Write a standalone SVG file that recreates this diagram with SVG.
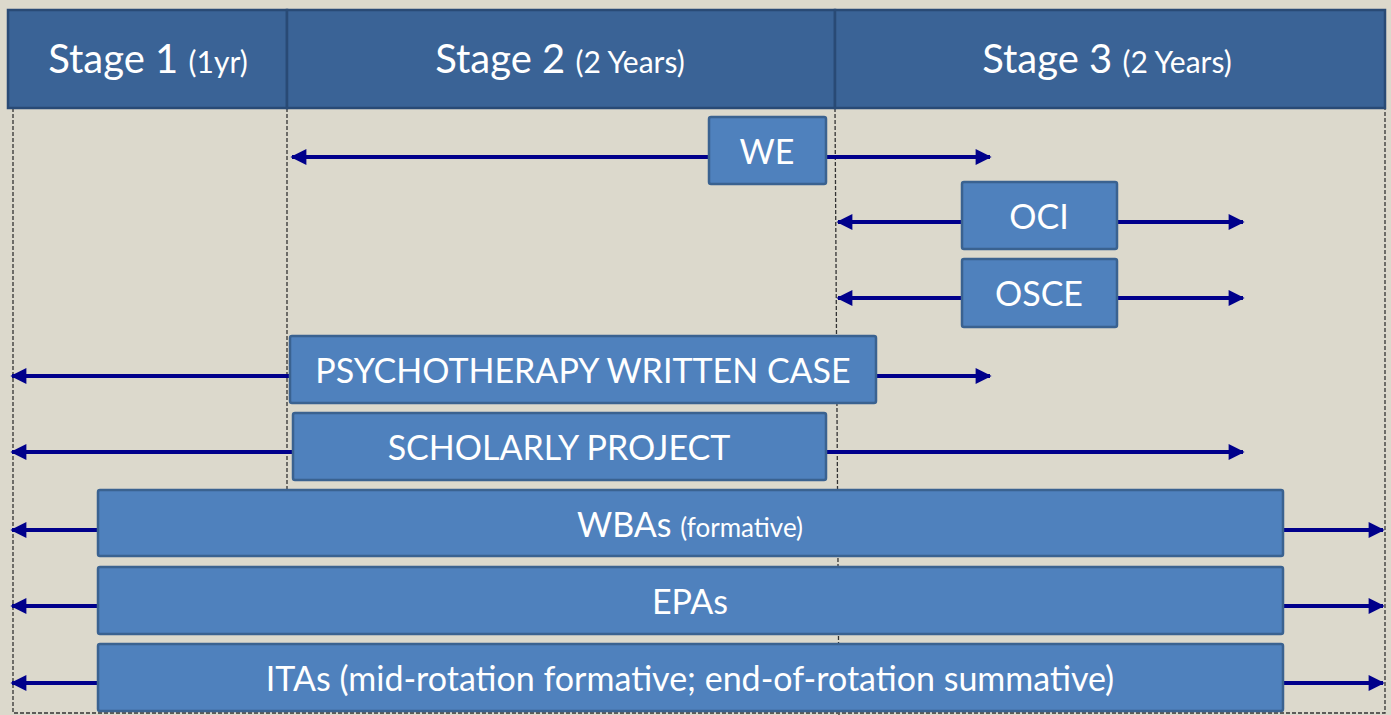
<svg xmlns="http://www.w3.org/2000/svg" width="1391" height="715" viewBox="0 0 1391 715">
<defs>
<style>
.hdr{fill:#3a6396;stroke:#294a75;stroke-width:2.5}
.box{fill:#4f81bd;stroke:#3a6290;stroke-width:2.5}
.t{font-family:Lato,"Open Sans",sans-serif;fill:#ffffff;text-anchor:middle}
.big{font-size:40px}
.sm{font-size:30px}
.bx{font-size:34px}
.dash{stroke:#333;stroke-width:1.3;stroke-dasharray:4,2;fill:none}
.arr{stroke:#00008b;stroke-width:4;fill:none}
</style>
<marker id="ah" viewBox="0 0 10 10" refX="9" refY="5" markerWidth="4.2" markerHeight="4" orient="auto-start-reverse" markerUnits="strokeWidth">
<path d="M0,0 L10,5 L0,10 z" fill="#00008b"/>
</marker>
</defs>
<rect width="1391" height="715" fill="#dcd9cc"/>
<g id="gridlines">
<path class="dash" d="M13,108 V713 H1385 V108"/>
<path class="dash" d="M287,108 V490"/>
<path class="dash" d="M835,108 L839,715"/>
</g>
<g id="stage1"><rect class="hdr" x="8" y="10" width="279" height="98"/><text class="t" x="148" y="73"><tspan class="big">Stage 1 </tspan><tspan class="sm">(1yr)</tspan></text></g>
<g id="stage2"><rect class="hdr" x="287" y="10" width="548" height="98"/><text class="t" x="560" y="73"><tspan class="big">Stage 2 </tspan><tspan class="sm">(2 Years)</tspan></text></g>
<g id="stage3"><rect class="hdr" x="835" y="10" width="550" height="98"/><text class="t" x="1107" y="73"><tspan class="big">Stage 3 </tspan><tspan class="sm">(2 Years)</tspan></text></g>
<g id="connectors">
<line class="arr" x1="709" y1="157" x2="292" y2="157" marker-end="url(#ah)"/>
<line class="arr" x1="826" y1="157" x2="990" y2="157" marker-end="url(#ah)"/>
<line class="arr" x1="962" y1="222" x2="838" y2="222" marker-end="url(#ah)"/>
<line class="arr" x1="1117" y1="222" x2="1243" y2="222" marker-end="url(#ah)"/>
<line class="arr" x1="962" y1="298" x2="838" y2="298" marker-end="url(#ah)"/>
<line class="arr" x1="1117" y1="298" x2="1243" y2="298" marker-end="url(#ah)"/>
<line class="arr" x1="290" y1="376" x2="12" y2="376" marker-end="url(#ah)"/>
<line class="arr" x1="876" y1="376" x2="990" y2="376" marker-end="url(#ah)"/>
<line class="arr" x1="293" y1="452" x2="12" y2="452" marker-end="url(#ah)"/>
<line class="arr" x1="826" y1="452" x2="1243" y2="452" marker-end="url(#ah)"/>
<line class="arr" x1="98" y1="530" x2="12" y2="530" marker-end="url(#ah)"/>
<line class="arr" x1="1283" y1="530" x2="1383" y2="530" marker-end="url(#ah)"/>
<line class="arr" x1="98" y1="606" x2="12" y2="606" marker-end="url(#ah)"/>
<line class="arr" x1="1283" y1="606" x2="1383" y2="606" marker-end="url(#ah)"/>
<line class="arr" x1="98" y1="683" x2="12" y2="683" marker-end="url(#ah)"/>
<line class="arr" x1="1283" y1="683" x2="1383" y2="683" marker-end="url(#ah)"/>
</g>
<g id="we"><rect class="box" x="709" y="117" width="117" height="67" rx="2"/><text class="t bx" x="767" y="164">WE</text></g>
<g id="oci"><rect class="box" x="962" y="182" width="155" height="67" rx="2"/><text class="t bx" x="1039" y="229">OCI</text></g>
<g id="osce"><rect class="box" x="962" y="259" width="155" height="68" rx="2"/><text class="t bx" x="1039" y="306">OSCE</text></g>
<g id="psych"><rect class="box" x="290" y="336" width="586" height="67" rx="2"/><text class="t bx" x="583" y="383">PSYCHOTHERAPY WRITTEN CASE</text></g>
<g id="scholarly"><rect class="box" x="293" y="413" width="533" height="67" rx="2"/><text class="t bx" x="559" y="460">SCHOLARLY PROJECT</text></g>
<g id="wbas"><rect class="box" x="98" y="490" width="1185" height="66" rx="2"/><text class="t" x="690" y="537"><tspan class="bx">WBAs </tspan><tspan style="font-size:26px">(formative)</tspan></text></g>
<g id="epas"><rect class="box" x="98" y="567" width="1185" height="67" rx="2"/><text class="t bx" x="690" y="614">EPAs</text></g>
<g id="itas"><rect class="box" x="98" y="644" width="1185" height="67" rx="2"/><text class="t bx" x="690" y="691">ITAs (mid-rotation formative; end-of-rotation summative)</text></g>
</svg>
